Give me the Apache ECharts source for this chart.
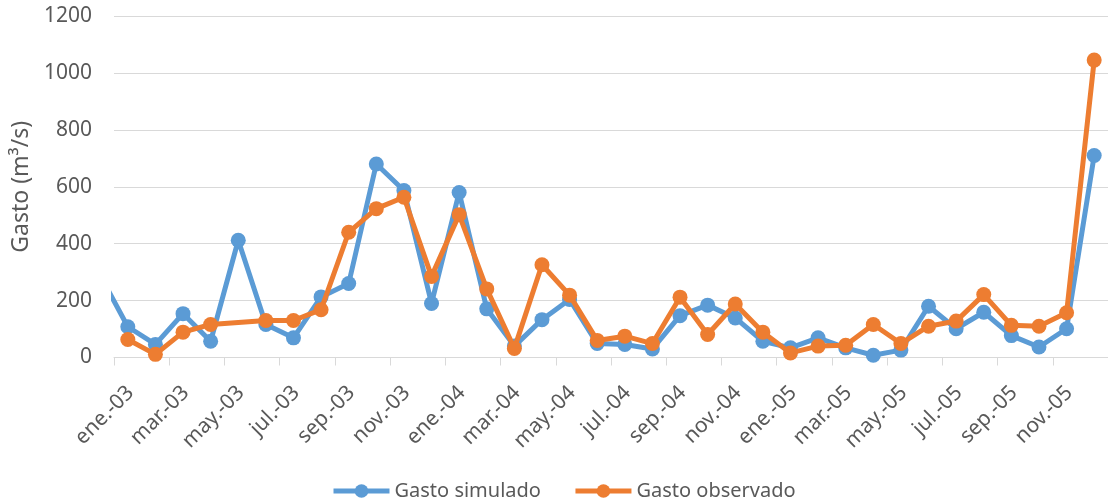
<!DOCTYPE html>
<html>
<head>
<meta charset="utf-8">
<script src="https://cdn.jsdelivr.net/npm/echarts@6/dist/echarts.min.js"></script>
<style>
  html, body { margin: 0; padding: 0; background: #ffffff; }
  #chart { width: 1108px; height: 502px; }
</style>
</head>
<body>
<div id="chart"></div>
<script>
// Monthly periods; the series begin one month before the visible axis (dic.-02)
const periods = [
  'dic.-02',
  'ene.-03','feb.-03','mar.-03','abr.-03','may.-03','jun.-03',
  'jul.-03','ago.-03','sep.-03','oct.-03','nov.-03','dic.-03',
  'ene.-04','feb.-04','mar.-04','abr.-04','may.-04','jun.-04',
  'jul.-04','ago.-04','sep.-04','oct.-04','nov.-04','dic.-04',
  'ene.-05','feb.-05','mar.-05','abr.-05','may.-05','jun.-05',
  'jul.-05','ago.-05','sep.-05','oct.-05','nov.-05','dic.-05'
];

// Discharge (m³/s)
const gastoSimulado = [
  288,
  108, 46, 154, 57, 412, 116, 69, 213, 260, 680, 587, 190,
  580, 171, 40, 133, 204, 49, 46, 30, 147, 184, 139, 57,
  34, 69, 34, 8, 26, 180, 101, 159, 77, 37, 101, 710
];
const gastoObservado = [
  null,
  63, 11, 89, 116, null, 130, 130, 168, 440, 523, 563, 285,
  502, 241, 32, 326, 219, 60, 75, 49, 212, 81, 188, 89,
  16, 40, 43, 116, 49, 110, 128, 221, 113, 110, 157, 1045
];

const yTicks = [0, 200, 400, 600, 800, 1000, 1200];

// Each month occupies one unit on the x axis; values sit at the middle of the month
const toPoints = vals => vals.map((v, k) => [k - 0.5, v]);

// Ticks mark every second month boundary; labels sit a little into the month
const tickPositions = [];
const labelPositions = [];
for (let m = 0; m <= 36; m += 2) {
  tickPositions.push(m);
  if (m < 36) labelPositions.push(m + 0.6);
}

const textColor = '#595959';
const fontFamily = '"Noto Sans", "Open Sans", sans-serif';

const chart = echarts.init(document.getElementById('chart'), null, { renderer: 'canvas' });

chart.setOption({
  animation: false,
  backgroundColor: '#ffffff',
  textStyle: { fontFamily: fontFamily },
  grid: { left: 114, top: 16, width: 1000, height: 341.5, containLabel: false },
  xAxis: {
    type: 'value',
    min: 0,
    max: 36,
    axisLine: { show: true, lineStyle: { color: '#d9d9d9', width: 1 } },
    axisTick: { show: true, length: 8, customValues: tickPositions, lineStyle: { color: '#d9d9d9' } },
    splitLine: { show: false },
    axisLabel: {
      customValues: labelPositions,
      rotate: 45,
      margin: 32,
      color: textColor,
      fontSize: 21,
      fontFamily: fontFamily,
      formatter: v => periods[Math.floor(v) + 1]
    }
  },
  yAxis: {
    type: 'value',
    min: yTicks[0],
    max: yTicks[yTicks.length - 1],
    interval: 200,
    name: 'Gasto (m³/s)',
    nameLocation: 'middle',
    nameGap: 78,
    nameTextStyle: { color: textColor, fontSize: 23, fontFamily: fontFamily },
    axisLine: { show: false },
    axisTick: { show: false },
    axisLabel: {
      color: textColor, fontSize: 21, margin: 22, fontFamily: fontFamily,
      formatter: v => String(v)
    },
    splitLine: { show: true, lineStyle: { color: '#d9d9d9', width: 1.2 } }
  },
  legend: {
    left: 326,
    top: 476,
    itemWidth: 56,
    itemHeight: 17,
    itemGap: 32,
    textStyle: { color: textColor, fontSize: 20, fontFamily: fontFamily },
    lineStyle: { width: 5 },
    data: ['Gasto simulado', 'Gasto observado']
  },
  series: [
    {
      name: 'Gasto simulado',
      type: 'line',
      data: toPoints(gastoSimulado),
      clip: true,
      symbol: 'circle',
      symbolSize: 15,
      showAllSymbol: true,
      connectNulls: true,
      color: '#5b9bd5',
      lineStyle: { width: 5, color: '#5b9bd5' },
      itemStyle: { color: '#5b9bd5' },
      z: 2
    },
    {
      name: 'Gasto observado',
      type: 'line',
      data: toPoints(gastoObservado),
      clip: true,
      symbol: 'circle',
      symbolSize: 15,
      showAllSymbol: true,
      connectNulls: true,
      color: '#ed7d31',
      lineStyle: { width: 5, color: '#ed7d31' },
      itemStyle: { color: '#ed7d31' },
      z: 3
    }
  ]
});
</script>
</body>
</html>
